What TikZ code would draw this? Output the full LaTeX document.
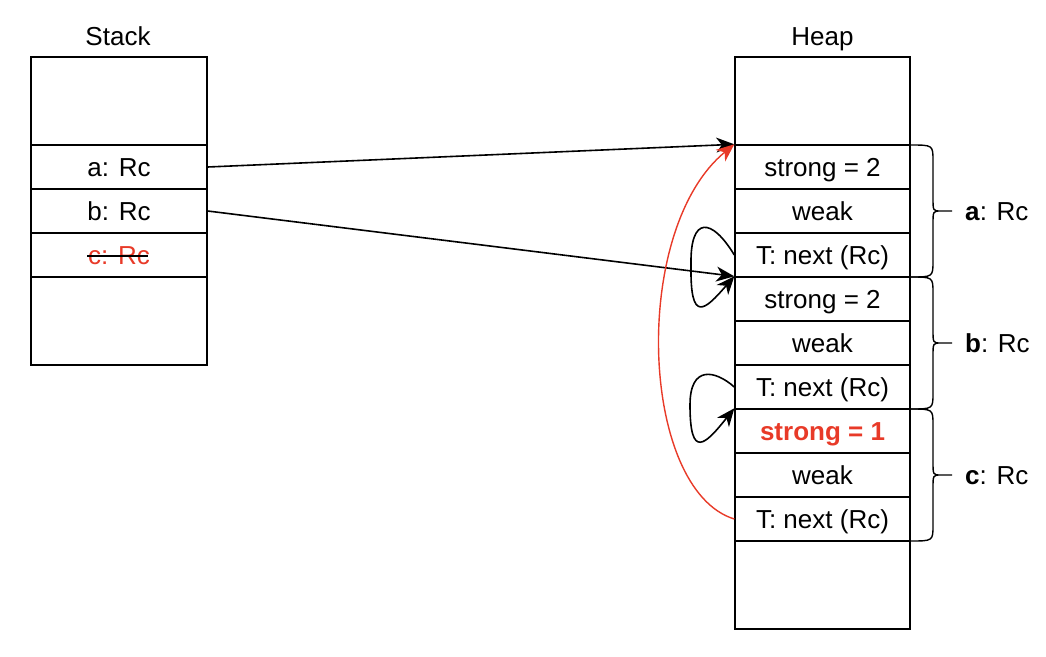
\documentclass[tikz,border=0pt]{standalone}
\usepackage{fontspec}
\setmainfont{Liberation Sans}
\usetikzlibrary{arrows.meta,calc}
\definecolor{myred}{RGB}{232,58,40}
\newcommand\mybrace[2]{%
  \pgfmathsetmacro\ym{(#1+#2)/2}%
  \draw[bracestyle] (910,#1) .. controls (933,#1) .. (933,#1+16) -- (933,\ym-13)
     .. controls (933,\ym) .. (941,\ym) -- (952,\ym)
     (941,\ym) .. controls (933,\ym) .. (933,\ym+13) -- (933,#2-16)
     .. controls (933,#2) .. (910,#2);}
\begin{document}
\begin{tikzpicture}[x=1pt,y=-1pt,
  every node/.style={font=\fontsize{26}{31}\selectfont},
  cell/.style={draw, line width=1.4pt, minimum height=44pt, inner sep=0pt, text height=18.5pt, text depth=0pt},
  scell/.style={cell, minimum width=176pt},
  hcell/.style={cell, minimum width=175pt},
  title/.style={inner sep=0pt, text height=18.5pt, text depth=0pt},
  box/.style={draw, line width=1.4pt, inner sep=0pt},
  arr/.style={line width=1.6pt, -{Stealth[length=18pt,width=15pt,inset=5.5pt]}},
  bracestyle/.style={line width=1.4pt}]
\useasboundingbox (0,0) rectangle (1046,656);
% stack
\node[box, minimum width=176pt, minimum height=308pt] (stack) at (119,211) {};
\node[title] (stitle) at (118,36) {Stack};
\node[scell] (s1) at (119,167) {a: Rc};
\node[scell] (s2) at (119,211) {b: Rc};
\node[scell, text=myred] (s3) at (119,255) {c: Rc};
\draw[line width=1.4pt] ([xshift=-32pt,yshift=-1pt]s3.center) -- ([xshift=29pt,yshift=-1pt]s3.center);
% heap
\node[box, minimum width=175pt, minimum height=572pt] (heap) at (822.5,343) {};
\node[title] (htitle) at (822.5,36) {Heap};
\node[hcell] (h1) at (822.5,167) {strong = 2};
\node[hcell] (h2) at (822.5,211) {weak};
\node[hcell] (h3) at (822.5,255) {T: next (Rc)};
\node[hcell] (h4) at (822.5,299) {strong = 2};
\node[hcell] (h5) at (822.5,343) {weak};
\node[hcell] (h6) at (822.5,387) {T: next (Rc)};
\node[hcell, text=myred, font=\fontsize{26}{31}\selectfont\bfseries] (h7) at (822.5,431) {strong = 1};
\node[hcell] (h8) at (822.5,475) {weak};
\node[hcell] (h9) at (822.5,519) {T: next (Rc)};
% braces
\mybrace{145}{277}
\mybrace{277}{409}
\mybrace{409}{541}
\node[title, anchor=west] (la) at (965,211) {\textbf{a}: Rc};
\node[title, anchor=west] (lb) at (965,343) {\textbf{b}: Rc};
\node[title, anchor=west] (lc) at (965,475) {\textbf{c}: Rc};
% arrows
\draw[arr] (s1.east) -- (h1.north west);
\draw[arr] (s2.east) -- (h4.north west);
\draw[arr] (h3.west) .. controls (712,218) and (690,215) .. (691,265)
   .. controls (690,325) and (705,310) .. (h4.north west);
\draw[arr] (h6.west) .. controls (715,370) and (690,365) .. (690,405)
   .. controls (690,460) and (705,445) .. (h7.north west);
\draw[arr, myred, line width=1.4pt] (h9.west) .. controls (640,490) and (630,230) .. (h1.north west);
\end{tikzpicture}
\end{document}
